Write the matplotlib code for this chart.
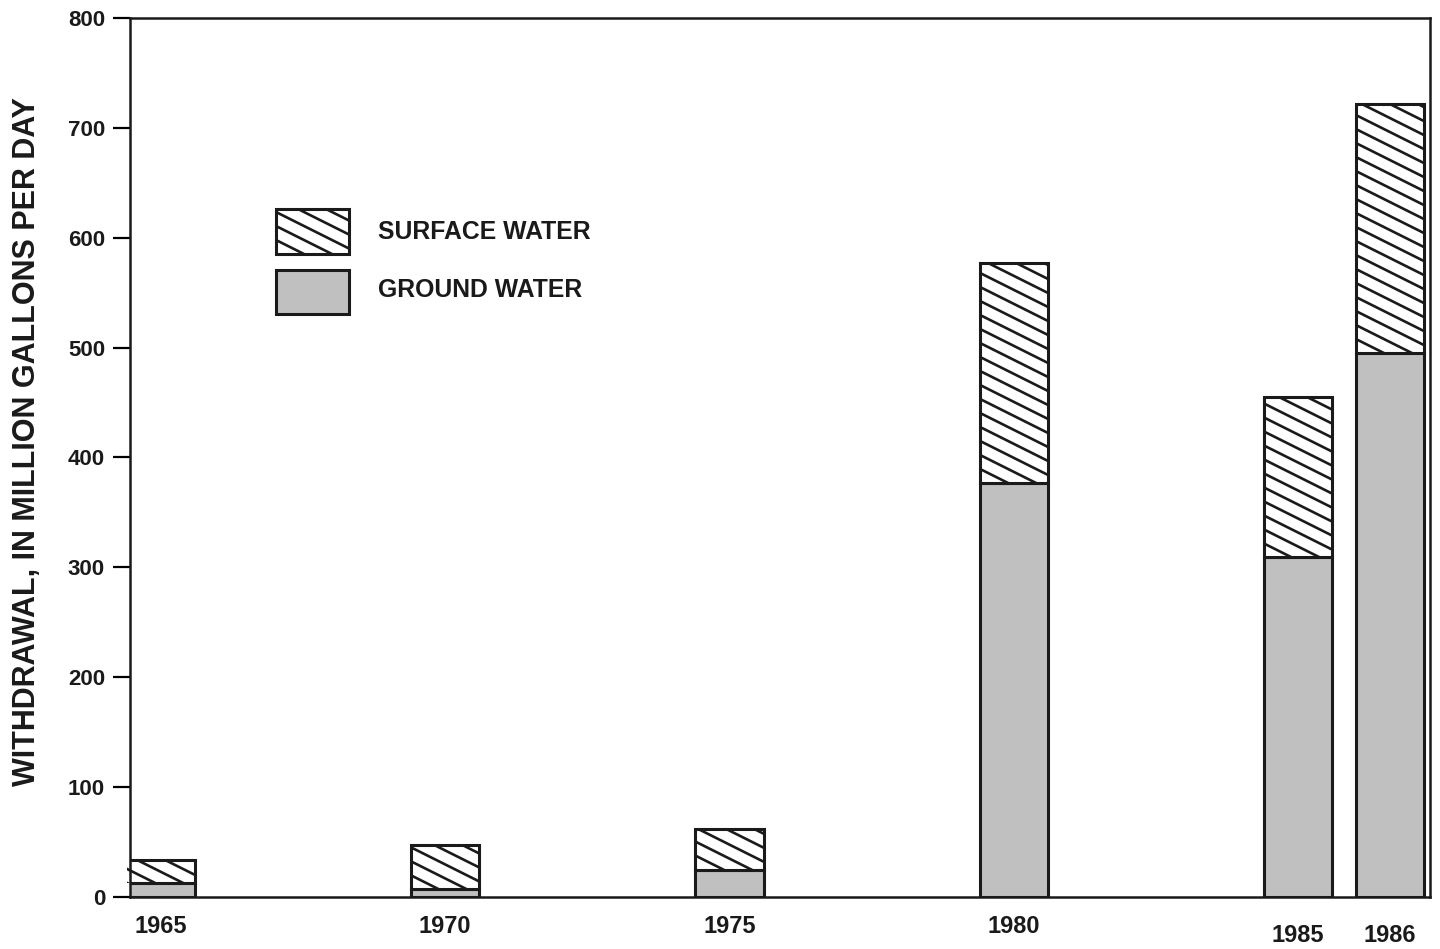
import matplotlib.pyplot as plt
import numpy as np
from matplotlib.patches import Rectangle
from matplotlib.transforms import IdentityTransform, offset_copy

# Data
years = ['1965', '1970', '1975', '1980', '1985', '1986']
ground_water = [13, 7, 25, 377, 309, 495]
total_withdrawal = [34, 47, 62, 577, 455, 722]
surface_water = [t - g for t, g in zip(total_withdrawal, ground_water)]
y_ticks = [0, 100, 200, 300, 400, 500, 600, 700, 800]
legend_labels = ['SURFACE WATER', 'GROUND WATER']

# Layout: bar centres along the time axis (1986 squeezed next to 1985 as in the original)
x_pos = np.array([1965, 1970, 1975, 1980, 1985, 1986.62])
bar_width = 1.2
ink = '#1a1a1a'
gw_color = '#c0c0c0'

plt.rcParams['font.family'] = ['Liberation Sans', 'DejaVu Sans']


def shallow_hatch(ax, patch, spacing=14.0, slope=0.5, lw=1.9):
    # diagonal lines at a shallow angle, drawn in pixels and clipped to the patch
    bb = patch.get_extents()
    x0, x1, y0, y1 = bb.x0, bb.x1, bb.y0, bb.y1
    drop = slope * (x1 - x0)
    c = y0
    while c < y1 + drop:
        ln, = ax.plot([x0, x1], [c, c - drop], color=ink, lw=lw,
                      transform=IdentityTransform(), solid_capstyle='butt')
        ln.set_clip_path(patch)
        c += spacing


fig = plt.figure(figsize=(14.4, 9.49), dpi=100)
ax = fig.add_axes([130 / 1440, 52 / 949, 1300 / 1440, 879 / 949])
ax.set_xlim(1964.46, 1987.32)
ax.set_ylim(0, 800)

ax.bar(x_pos, ground_water, width=bar_width, color=gw_color, edgecolor=ink, linewidth=2.2)
sw_bars = ax.bar(x_pos, surface_water, width=bar_width, bottom=ground_water, color='white',
                 edgecolor=ink, linewidth=2.2)
for p in sw_bars:
    shallow_hatch(ax, p)

ax.set_xlim(1964.46, 1987.32)
ax.set_ylim(0, 800)
ax.set_yticks(y_ticks)
ax.set_xticks(x_pos)
ax.set_xticklabels(years)

for sp in ax.spines.values():
    sp.set_linewidth(1.8)
    sp.set_color(ink)

ax.tick_params(axis='y', direction='out', length=12, width=1.6, pad=6, labelsize=16)
ax.tick_params(axis='x', length=0, pad=13, labelsize=17)
for lbl in ax.get_xticklabels() + ax.get_yticklabels():
    lbl.set_fontweight('bold')
    lbl.set_color(ink)
# the last two year labels sit a little lower in the original
for lbl in ax.get_xticklabels()[-2:]:
    lbl.set_transform(offset_copy(lbl.get_transform(), fig=fig, y=-9, units='dots'))

ax.set_ylabel('WITHDRAWAL, IN MILLION GALLONS PER DAY', fontsize=22, fontweight='bold', color=ink)
ax.yaxis.set_label_coords(-0.068, 0.518)

# legend drawn by hand so the swatches share the bar hatching
box_sw = Rectangle((0.1123, 0.7315), 0.0562, 0.0512, transform=ax.transAxes,
                   facecolor='white', edgecolor=ink, linewidth=2.2, clip_on=False)
box_gw = Rectangle((0.1123, 0.6633), 0.0562, 0.0500, transform=ax.transAxes,
                   facecolor=gw_color, edgecolor=ink, linewidth=2.2, clip_on=False)
ax.add_patch(box_sw)
ax.add_patch(box_gw)
shallow_hatch(ax, box_sw)
ax.text(0.1908, 0.7565, legend_labels[0], transform=ax.transAxes, fontsize=17.8,
        fontweight='bold', color=ink, va='center', ha='left')
ax.text(0.1908, 0.6906, legend_labels[1], transform=ax.transAxes, fontsize=17.8,
        fontweight='bold', color=ink, va='center', ha='left')

fig.savefig('out.png', dpi=100, facecolor='white')
